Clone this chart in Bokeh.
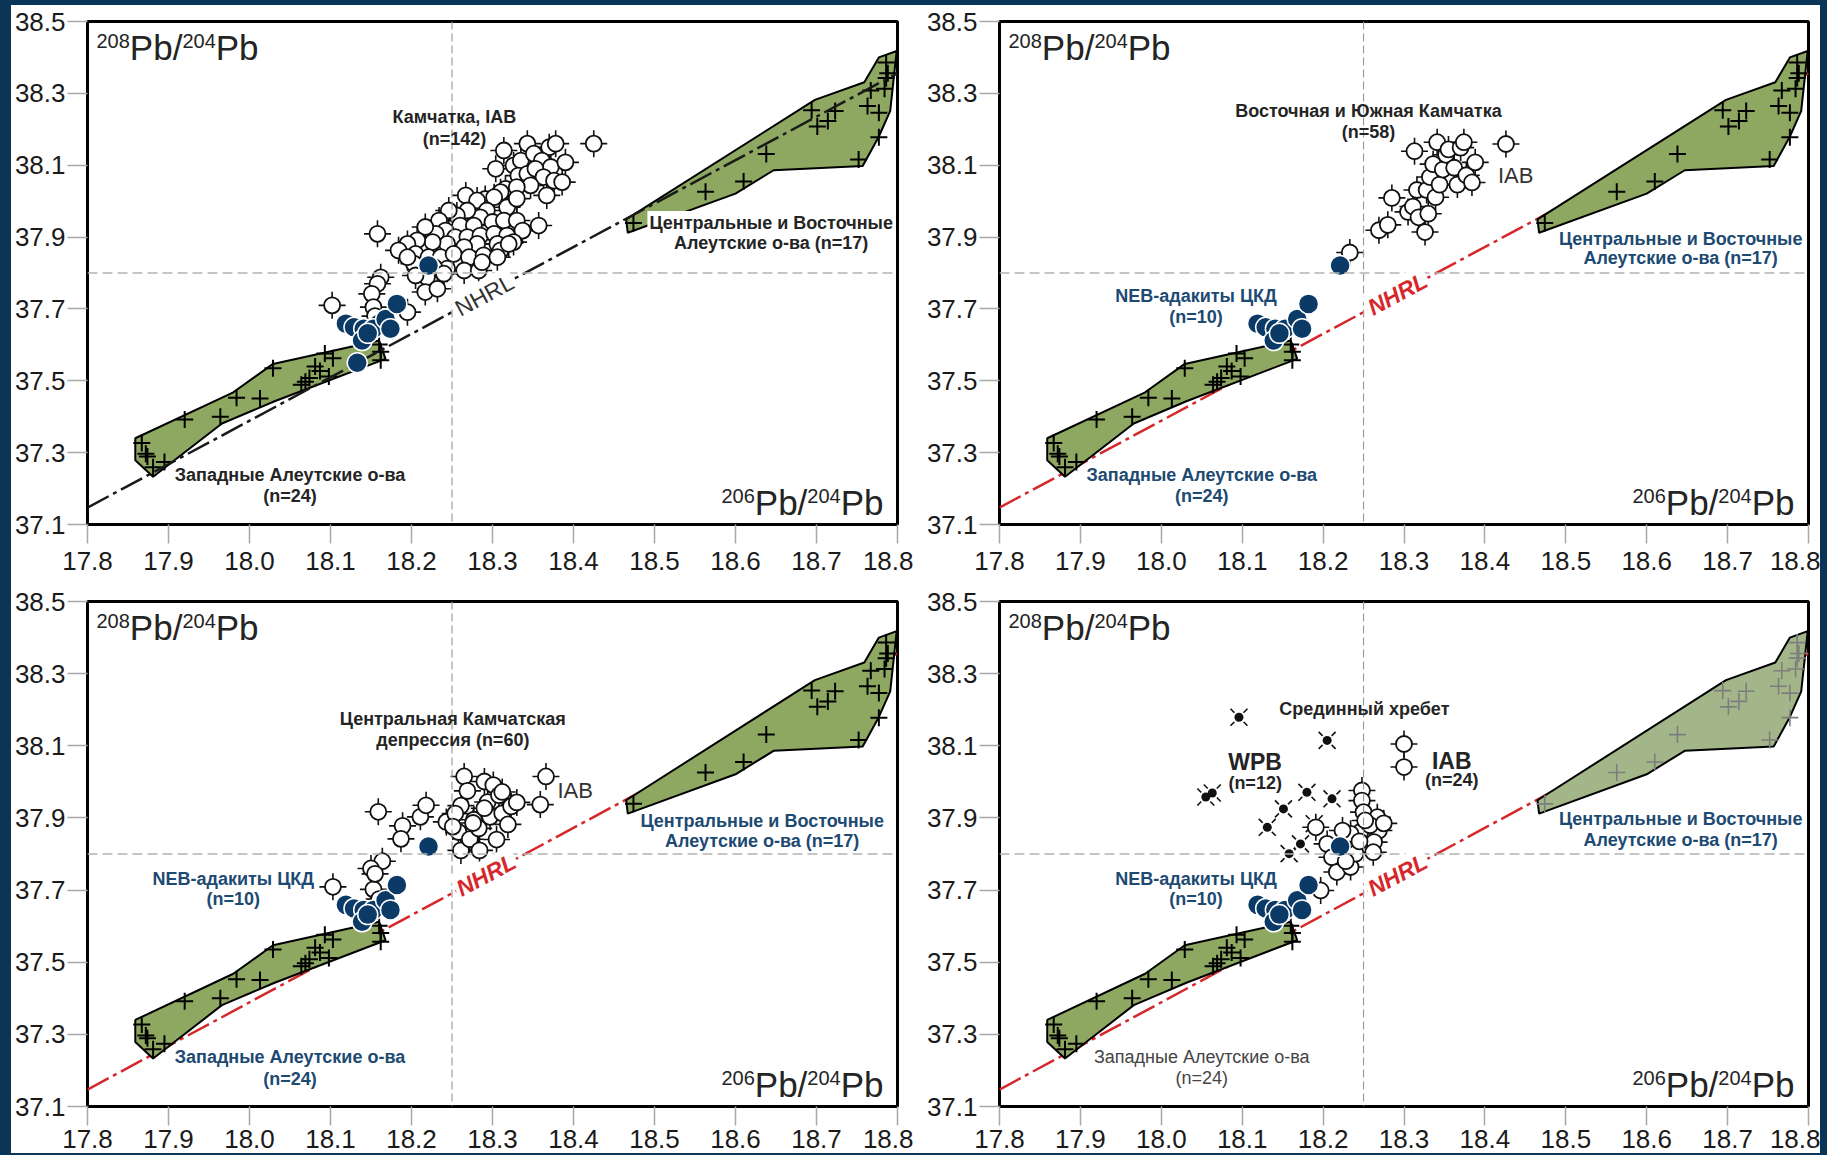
from bokeh.plotting import figure
from bokeh.models import Label, Span, FixedTicker, PrintfTickFormatter
from bokeh.layouts import column, row
from bokeh.embed import file_html
from bokeh.resources import INLINE

# ---------------- axes ----------------
X_TICKS = [17.8, 17.9, 18.0, 18.1, 18.2, 18.3, 18.4, 18.5, 18.6, 18.7, 18.8]
Y_TICKS = [37.1, 37.3, 37.5, 37.7, 37.9, 38.1, 38.3, 38.5]
X_RANGE = (17.8, 18.8)
Y_RANGE = (37.1, 38.5)
REF_X = 18.25          # vertical reference (206Pb/204Pb)
REF_Y = 37.8           # horizontal reference (208Pb/204Pb)

# Northern Hemisphere Reference Line end points
NHRL_X = [17.8, 18.8]
NHRL_Y = [37.147, 38.356]

# ---------------- Aleutian fields ----------------
WA_POLY_X = [17.859, 17.980, 18.029, 18.092, 18.160, 18.168, 18.031, 17.966, 17.881, 17.859]
WA_POLY_Y = [37.340, 37.468, 37.547, 37.578, 37.612, 37.561, 37.443, 37.381, 37.233, 37.279]
WA_X = [17.867, 17.872, 17.874, 17.881, 17.895, 17.920, 17.964, 17.984, 18.013, 18.029, 18.064,
        18.069, 18.074, 18.081, 18.087, 18.093, 18.098, 18.103, 18.160, 18.162, 18.162]
WA_Y = [37.327, 37.297, 37.289, 37.259, 37.274, 37.392, 37.400, 37.453, 37.451, 37.535, 37.489,
        37.497, 37.508, 37.540, 37.527, 37.576, 37.512, 37.563, 37.601, 37.581, 37.557]

CEA_POLY_X = [18.465, 18.698, 18.759, 18.777, 18.799, 18.791, 18.777, 18.757, 18.647, 18.600, 18.467]
CEA_POLY_Y = [37.949, 38.282, 38.331, 38.400, 38.418, 38.251, 38.180, 38.098, 38.086, 38.021, 37.912]
CEA_X = [18.474, 18.563, 18.610, 18.638, 18.694, 18.701, 18.714, 18.723, 18.752, 18.763, 18.767,
         18.777, 18.777, 18.784, 18.786, 18.786, 18.788]
CEA_Y = [37.939, 38.026, 38.055, 38.131, 38.253, 38.208, 38.223, 38.251, 38.116, 38.265, 38.308,
         38.246, 38.178, 38.313, 38.343, 38.386, 38.356]

# ---------------- NEB adakites ----------------
NEB_X = [18.119, 18.129, 18.141, 18.153, 18.139, 18.146, 18.168, 18.174, 18.182, 18.221]
NEB_Y = [37.659, 37.649, 37.645, 37.645, 37.612, 37.632, 37.672, 37.645, 37.714, 37.821]
NEB_EXTRA_X = [18.133]
NEB_EXTRA_Y = [37.550]

# ---------------- IAB: Kamchatka (all) ----------------
KAM_X = [18.314, 18.343, 18.370, 18.378, 18.425, 18.304, 18.326, 18.335, 18.351, 18.361,
         18.372, 18.390, 18.316, 18.332, 18.343, 18.353, 18.363, 18.376, 18.386, 18.367,
         18.347, 18.330, 18.310, 18.291, 18.267, 18.281, 18.302, 18.318, 18.330, 18.293,
         18.285, 18.269, 18.256, 18.246, 18.234, 18.260, 18.277, 18.300, 18.314, 18.330,
         18.357, 18.242, 18.230, 18.217, 18.254, 18.269, 18.285, 18.302, 18.318, 18.337,
         18.326, 18.306, 18.281, 18.265, 18.244, 18.226, 18.207, 18.195, 18.184, 18.205,
         18.221, 18.236, 18.252, 18.271, 18.289, 18.310, 18.265, 18.283, 18.244, 18.228,
         18.203, 18.195, 18.219, 18.240, 18.205, 18.217, 18.232, 18.158, 18.162, 18.158,
         18.151, 18.153, 18.102, 18.195, 18.306, 18.287, 18.320, 18.155, 18.160]
KAM_Y = [38.141, 38.160, 38.150, 38.160, 38.160, 38.090, 38.099, 38.113, 38.132, 38.113,
         38.095, 38.108, 38.034, 38.071, 38.076, 38.090, 38.067, 38.057, 38.053, 38.016,
         38.044, 38.039, 38.025, 38.006, 38.016, 38.002, 38.011, 37.983, 38.007, 37.974,
         37.955, 37.974, 37.960, 37.974, 37.946, 37.932, 37.932, 37.942, 37.946, 37.946,
         37.932, 37.918, 37.909, 37.928, 37.900, 37.900, 37.904, 37.909, 37.904, 37.918,
         37.886, 37.881, 37.881, 37.872, 37.881, 37.886, 37.891, 37.881, 37.863, 37.853,
         37.844, 37.844, 37.853, 37.844, 37.849, 37.863, 37.807, 37.807, 37.812, 37.816,
         37.826, 37.844, 37.788, 37.798, 37.793, 37.747, 37.756, 37.909, 37.788, 37.770,
         37.742, 37.705, 37.710, 37.691, 37.844, 37.830, 37.881, 37.680, 37.660]

# ---------------- IAB: Eastern & Southern Kamchatka ----------------
ESK_X = [18.233, 18.269, 18.280, 18.285, 18.305, 18.311, 18.313, 18.316, 18.318, 18.326,
         18.328, 18.330, 18.332, 18.336, 18.339, 18.341, 18.344, 18.348, 18.352, 18.355,
         18.362, 18.366, 18.370, 18.374, 18.377, 18.384, 18.388, 18.426]
ESK_Y = [37.857, 37.919, 37.934, 38.009, 37.970, 37.985, 38.139, 38.031, 37.955, 37.914,
         38.031, 37.965, 38.067, 38.103, 38.011, 38.164, 38.046, 38.088, 38.129, 38.144,
         38.093, 38.046, 38.149, 38.164, 38.072, 38.052, 38.108, 38.159]

# ---------------- IAB: Central Kamchatka Depression ----------------
CKD_X = [18.103, 18.159, 18.164, 18.150, 18.153, 18.189, 18.187, 18.211, 18.218, 18.243,
         18.265, 18.261, 18.269, 18.258, 18.261, 18.272, 18.277, 18.290, 18.294, 18.297,
         18.301, 18.305, 18.308, 18.284, 18.312, 18.319, 18.323, 18.330, 18.283, 18.290,
         18.366, 18.359, 18.312, 18.254, 18.251, 18.276, 18.155, 18.160]
CKD_Y = [37.709, 37.917, 37.780, 37.760, 37.702, 37.878, 37.842, 37.903, 37.935, 37.889,
         38.015, 37.934, 37.975, 37.861, 37.810, 37.841, 37.895, 38.001, 37.944, 37.903,
         37.991, 37.840, 37.963, 37.810, 37.913, 37.882, 37.932, 37.943, 37.871, 37.927,
         38.015, 37.937, 37.972, 37.912, 37.876, 37.886, 37.745, 37.675]

# ---------------- Sredinny Range: IAB and WPB ----------------
SR_IAB_X = [18.248, 18.248, 18.250, 18.267, 18.269, 18.263, 18.246, 18.234, 18.224, 18.191,
            18.205, 18.211, 18.217, 18.234, 18.240, 18.197, 18.300, 18.300, 18.258, 18.245,
            18.228, 18.262, 18.252, 18.275]
SR_IAB_Y = [37.976, 37.948, 37.916, 37.902, 37.865, 37.833, 37.861, 37.856, 37.865, 37.874,
            37.828, 37.791, 37.750, 37.764, 37.801, 37.699, 38.105, 38.041, 37.880, 37.835,
            37.780, 37.805, 37.893, 37.885]
SR_WPB_X = [18.096, 18.205, 18.055, 18.063, 18.180, 18.211, 18.151, 18.131, 18.189, 18.172, 18.158]
SR_WPB_Y = [38.179, 38.115, 37.958, 37.969, 37.971, 37.953, 37.925, 37.874, 37.884, 37.828, 37.801]

# ---------------- styling ----------------
NAVY_BG = "#0b3557"
GREEN = "#8ea862"
GREEN_PALE = "#a2b689"
DOT_BLUE = "#0c3a67"
TEXT_NAVY = "#1d4a72"
TEXT_DARK = "#242424"
RED = "#d6282b"
FONT = "Liberation Sans"
NHRL_ANGLE = 0.492
NHRL_DASH = "24 5 4 5"


def make_fig(width, height, borders, x_standoff):
    top, right, bottom, left = borders
    p = figure(width=width, height=height, x_range=X_RANGE, y_range=Y_RANGE,
               output_backend="svg", toolbar_location=None,
               min_border_top=top, min_border_right=right,
               min_border_bottom=bottom, min_border_left=left,
               background_fill_color="white", border_fill_color="white",
               outline_line_color="black", outline_line_width=3)
    p.xgrid.visible = False
    p.ygrid.visible = False
    for ax, ticks in ((p.xaxis, X_TICKS), (p.yaxis, Y_TICKS)):
        ax.ticker = FixedTicker(ticks=ticks)
        ax.formatter = PrintfTickFormatter(format="%.1f")
        ax.axis_line_color = None
        ax.major_tick_line_color = "#a8a8a8"
        ax.major_tick_line_width = 1.5
        ax.major_tick_in = 0
        ax.minor_tick_line_color = None
        ax.major_label_text_font = FONT
        ax.major_label_text_font_size = "26px"
        ax.major_label_text_color = "#1a1a1a"
    p.xaxis.major_tick_out = 19
    p.xaxis.major_label_standoff = x_standoff
    p.yaxis.major_tick_out = 20
    p.yaxis.major_label_standoff = 2
    p.add_layout(Span(location=REF_X, dimension="height", line_color="#9c9c9c",
                      line_dash="8 4", line_width=1.2))
    p.add_layout(Span(location=REF_Y, dimension="width", line_color="#b4b4b4",
                      line_dash="10 5", line_width=1.5))
    return p


def text(p, x, y, s, size=18, color=TEXT_DARK, bold=True, italic=False, bg=None, angle=0.0):
    style = ("bold " if bold else "") + ("italic" if italic else "")
    style = style.strip() or "normal"
    lab = Label(x=x, y=y, text=s, text_font=FONT, text_font_size=f"{size}px",
                text_font_style=style, text_color=color, text_align="center",
                text_baseline="middle", angle=angle)
    if bg is not None:
        lab.background_fill_color = bg
        lab.padding = 2
    p.add_layout(lab)


def ratio_title(p, frame_w, frame_h, num, corner):
    big, small = 35, 20
    w_sup = 3 * 0.556 * small
    w_pbs = 1.501 * big
    w_pb = 1.223 * big
    parts = [(num, small), ("Pb/", big), ("204", small), ("Pb", big)]
    widths = [w_sup, w_pbs, w_sup, w_pb]
    if corner == "top":
        x0 = 9
        base_big, base_small = frame_h - 26, frame_h - 19
    else:
        x0 = frame_w - 14 - sum(widths)
        base_big, base_small = 22, 29
    x = x0
    for (s, size), w in zip(parts, widths):
        p.add_layout(Label(x=x, y=base_small if size == small else base_big,
                           x_units="screen", y_units="screen", text=s,
                           text_font=FONT, text_font_size=f"{size}px",
                           text_color=TEXT_DARK, text_align="left",
                           text_baseline="alphabetic"))
        x += w


def nhrl(p, color):
    p.line(NHRL_X, NHRL_Y, line_color=color, line_width=2.5, line_dash=NHRL_DASH)


def aleutians(p, pale_east=False):
    p.patch(WA_POLY_X, WA_POLY_Y, fill_color=GREEN, line_color="black", line_width=2)
    p.scatter(WA_X, WA_Y, marker="cross", size=17, line_color="black", line_width=2)
    p.patch(CEA_POLY_X, CEA_POLY_Y, fill_color=GREEN_PALE if pale_east else GREEN,
            line_color="black", line_width=2)
    p.scatter(CEA_X, CEA_Y, marker="cross", size=17,
              line_color="#7d7d7d" if pale_east else "black",
              line_width=1.6 if pale_east else 2)


def iab(p, xs, ys):
    p.scatter(xs, ys, marker="cross", size=27, line_color="#111111", line_width=1.6)
    p.scatter(xs, ys, marker="circle", size=16, fill_color="white",
              line_color="#111111", line_width=1.8)


def neb(p, xs, ys):
    p.scatter(xs, ys, marker="circle", size=20, fill_color=DOT_BLUE,
              line_color="white", line_width=1.5)


def wpb(p, xs, ys):
    p.scatter(xs, ys, marker="x", size=24, line_color="#111111", line_width=1.6)
    p.scatter(xs, ys, marker="circle", size=13, fill_color="white", line_color=None)
    p.scatter(xs, ys, marker="circle", size=9, fill_color="#111111", line_color=None)


FW, FH_TOP, FH_BOT = 810, 503, 505

# ---- panel 1: all Kamchatka ----
p1 = make_fig(902, 575, (16, 16, 56, 76), 8)
aleutians(p1)
nhrl(p1, "#1a1a1a")
iab(p1, KAM_X, KAM_Y)
neb(p1, NEB_X + NEB_EXTRA_X, NEB_Y + NEB_EXTRA_Y)
text(p1, 18.253, 38.234, "Камчатка, IAB")
text(p1, 18.253, 38.174, "(n=142)")
text(p1, 18.644, 37.939, "Центральные и Восточные", bg="white")
text(p1, 18.644, 37.883, "Алеутские о-ва (n=17)")
text(p1, 18.050, 37.238, "Западные Алеутские о-ва")
text(p1, 18.050, 37.180, "(n=24)")
text(p1, 18.290, 37.738, "NHRL", size=23, color="#333333", bold=False, bg="white",
     angle=NHRL_ANGLE)
ratio_title(p1, FW, FH_TOP, "208", "top")
ratio_title(p1, FW, FH_TOP, "206", "bottom")

# ---- panel 2: Eastern and Southern Kamchatka ----
p2 = make_fig(907, 575, (16, 12, 56, 86), 8)
nhrl(p2, RED)
aleutians(p2)
iab(p2, ESK_X, ESK_Y)
neb(p2, NEB_X, NEB_Y)
text(p2, 18.256, 38.251, "Восточная и Южная Камчатка")
text(p2, 18.256, 38.193, "(n=58)")
text(p2, 18.438, 38.072, "IAB", size=22, color="#333333", bold=False)
text(p2, 18.043, 37.735, "NEB-адакиты ЦКД", color=TEXT_NAVY)
text(p2, 18.043, 37.678, "(n=10)", color=TEXT_NAVY)
text(p2, 18.642, 37.895, "Центральные и Восточные", color=TEXT_NAVY)
text(p2, 18.642, 37.842, "Алеутские о-ва (n=17)", color=TEXT_NAVY)
text(p2, 18.050, 37.238, "Западные Алеутские о-ва", color=TEXT_NAVY)
text(p2, 18.050, 37.180, "(n=24)", color=TEXT_NAVY)
text(p2, 18.292, 37.742, "NHRL", size=23, color=RED, italic=True, bg="white",
     angle=NHRL_ANGLE)
ratio_title(p2, 809, FH_TOP, "208", "top")
ratio_title(p2, 809, FH_TOP, "206", "bottom")

# ---- panel 3: Central Kamchatka Depression ----
p3 = make_fig(902, 573, (21, 16, 47, 76), 4)
nhrl(p3, RED)
aleutians(p3)
iab(p3, CKD_X, CKD_Y)
neb(p3, NEB_X, NEB_Y)
text(p3, 18.251, 38.173, "Центральная Камчатская")
text(p3, 18.251, 38.116, "депрессия (n=60)")
text(p3, 18.402, 37.975, "IAB", size=22, color="#333333", bold=False)
text(p3, 17.980, 37.732, "NEB-адакиты ЦКД", color=TEXT_NAVY)
text(p3, 17.980, 37.676, "(n=10)", color=TEXT_NAVY)
text(p3, 18.633, 37.891, "Центральные и Восточные", color=TEXT_NAVY)
text(p3, 18.633, 37.835, "Алеутские о-ва (n=17)", color=TEXT_NAVY)
text(p3, 18.050, 37.236, "Западные Алеутские о-ва", color=TEXT_NAVY)
text(p3, 18.050, 37.177, "(n=24)", color=TEXT_NAVY)
text(p3, 18.292, 37.742, "NHRL", size=23, color=RED, italic=True, bg="white",
     angle=NHRL_ANGLE)
ratio_title(p3, FW, FH_BOT, "208", "top")
ratio_title(p3, FW, FH_BOT, "206", "bottom")

# ---- panel 4: Sredinny Range ----
p4 = make_fig(907, 573, (21, 12, 47, 86), 4)
nhrl(p4, RED)
aleutians(p4, pale_east=True)
wpb(p4, SR_WPB_X, SR_WPB_Y)
iab(p4, SR_IAB_X, SR_IAB_Y)
neb(p4, NEB_X, NEB_Y)
text(p4, 18.251, 38.203, "Срединный хребет")
text(p4, 18.116, 38.056, "WPB", size=23)
text(p4, 18.116, 37.998, "(n=12)")
text(p4, 18.359, 38.059, "IAB", size=23)
text(p4, 18.359, 38.004, "(n=24)")
text(p4, 18.043, 37.732, "NEB-адакиты ЦКД", color=TEXT_NAVY)
text(p4, 18.043, 37.676, "(n=10)", color=TEXT_NAVY)
text(p4, 18.642, 37.896, "Центральные и Восточные", color=TEXT_NAVY)
text(p4, 18.642, 37.840, "Алеутские о-ва (n=17)", color=TEXT_NAVY)
text(p4, 18.050, 37.236, "Западные Алеутские о-ва", color="#444444", bold=False)
text(p4, 18.050, 37.180, "(n=24)", color="#444444", bold=False)
text(p4, 18.292, 37.742, "NHRL", size=23, color=RED, italic=True, bg="white",
     angle=NHRL_ANGLE)
ratio_title(p4, 809, FH_BOT, "208", "top")
ratio_title(p4, 809, FH_BOT, "206", "bottom")

# white sheet holding the four panels, framed by a navy border
sheet = column(row(p1, p2, spacing=0), row(p3, p4, spacing=0), spacing=0,
               styles={"background-color": "white"}, margin=(5, 7, 2, 11))
page = column(sheet, spacing=0, styles={"background-color": NAVY_BG})

open("out.html", "w").write(file_html(page, INLINE))
